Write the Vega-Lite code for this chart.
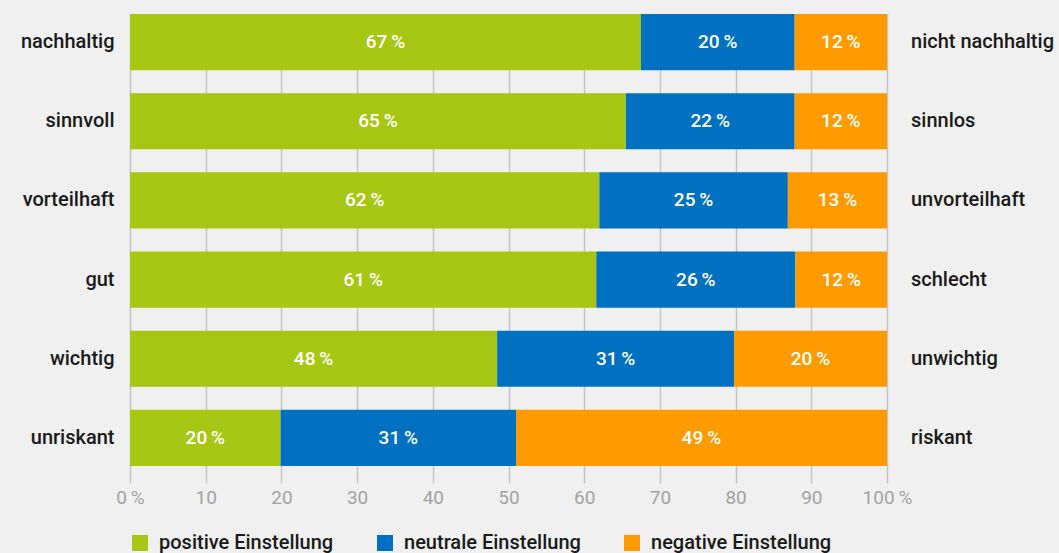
{
  "$schema": "https://vega.github.io/schema/vega-lite/v6.json",
  "autosize": {"type": "none"},
  "width": 757,
  "height": 452,
  "padding": {"left": 130, "top": 14, "right": 172, "bottom": 87},
  "background": "#f0f0f0",
  "config": {
    "view": {"stroke": null},
    "font": "Roboto"
  },
  "data": {
    "values": [
      {"pos": "nachhaltig", "neg": "nicht nachhaltig", "rank": 1, "typ": "positive Einstellung", "o": 1, "value": 67.5, "label": "67\u2009%"},
      {"pos": "nachhaltig", "neg": "nicht nachhaltig", "rank": 1, "typ": "neutrale Einstellung", "o": 2, "value": 20.3, "label": "20\u2009%"},
      {"pos": "nachhaltig", "neg": "nicht nachhaltig", "rank": 1, "typ": "negative Einstellung", "o": 3, "value": 12.2, "label": "12\u2009%"},
      {"pos": "sinnvoll", "neg": "sinnlos", "rank": 2, "typ": "positive Einstellung", "o": 1, "value": 65.5, "label": "65\u2009%"},
      {"pos": "sinnvoll", "neg": "sinnlos", "rank": 2, "typ": "neutrale Einstellung", "o": 2, "value": 22.3, "label": "22\u2009%"},
      {"pos": "sinnvoll", "neg": "sinnlos", "rank": 2, "typ": "negative Einstellung", "o": 3, "value": 12.2, "label": "12\u2009%"},
      {"pos": "vorteilhaft", "neg": "unvorteilhaft", "rank": 3, "typ": "positive Einstellung", "o": 1, "value": 62.0, "label": "62\u2009%"},
      {"pos": "vorteilhaft", "neg": "unvorteilhaft", "rank": 3, "typ": "neutrale Einstellung", "o": 2, "value": 24.9, "label": "25\u2009%"},
      {"pos": "vorteilhaft", "neg": "unvorteilhaft", "rank": 3, "typ": "negative Einstellung", "o": 3, "value": 13.1, "label": "13\u2009%"},
      {"pos": "gut", "neg": "schlecht", "rank": 4, "typ": "positive Einstellung", "o": 1, "value": 61.6, "label": "61\u2009%"},
      {"pos": "gut", "neg": "schlecht", "rank": 4, "typ": "neutrale Einstellung", "o": 2, "value": 26.3, "label": "26\u2009%"},
      {"pos": "gut", "neg": "schlecht", "rank": 4, "typ": "negative Einstellung", "o": 3, "value": 12.1, "label": "12\u2009%"},
      {"pos": "wichtig", "neg": "unwichtig", "rank": 5, "typ": "positive Einstellung", "o": 1, "value": 48.5, "label": "48\u2009%"},
      {"pos": "wichtig", "neg": "unwichtig", "rank": 5, "typ": "neutrale Einstellung", "o": 2, "value": 31.3, "label": "31\u2009%"},
      {"pos": "wichtig", "neg": "unwichtig", "rank": 5, "typ": "negative Einstellung", "o": 3, "value": 20.2, "label": "20\u2009%"},
      {"pos": "unriskant", "neg": "riskant", "rank": 6, "typ": "positive Einstellung", "o": 1, "value": 19.9, "label": "20\u2009%"},
      {"pos": "unriskant", "neg": "riskant", "rank": 6, "typ": "neutrale Einstellung", "o": 2, "value": 31.1, "label": "31\u2009%"},
      {"pos": "unriskant", "neg": "riskant", "rank": 6, "typ": "negative Einstellung", "o": 3, "value": 49.0, "label": "49\u2009%"}
    ]
  },
  "transform": [
    {"stack": "value", "groupby": ["pos"], "sort": [{"field": "o"}], "as": ["start", "end"]},
    {"calculate": "(datum.start + datum.end) / 2", "as": "mid"}
  ],
  "encoding": {
    "y": {
      "field": "pos",
      "type": "nominal",
      "sort": {"field": "rank"},
      "scale": {"paddingInner": 0.29, "paddingOuter": 0},
      "axis": {
        "title": null,
        "domain": false,
        "ticks": false,
        "labelPadding": 16,
        "labelFontSize": 20,
        "labelFontWeight": 500,
        "labelColor": "#1a1a1a"
      }
    }
  },
  "layer": [
    {
      "mark": {"type": "bar"},
      "encoding": {
        "x": {
          "field": "start",
          "type": "quantitative",
          "scale": {"domain": [0, 100], "nice": false},
          "axis": {
            "title": null,
            "values": [0, 10, 20, 30, 40, 50, 60, 70, 80, 90, 100],
            "labelExpr": "datum.value == 0 || datum.value == 100 ? datum.value + '\u2009%' : datum.value",
            "labelFlush": false,
            "labelBound": false,
            "labelOverlap": false,
            "domain": false,
            "grid": true,
            "gridColor": "#c4c4c4",
            "gridWidth": 1.5,
            "tickColor": "#c4c4c4",
            "tickWidth": 1.5,
            "tickSize": 17,
            "labelFontSize": 19,
            "labelColor": "#a3a3a3",
            "labelPadding": 5
          }
        },
        "x2": {"field": "end"},
        "color": {
          "field": "typ",
          "type": "nominal",
          "sort": ["positive Einstellung", "neutrale Einstellung", "negative Einstellung"],
          "scale": {
            "domain": ["positive Einstellung", "neutrale Einstellung", "negative Einstellung"],
            "range": ["#a8c614", "#0070c0", "#ff9b00"]
          },
          "legend": {
            "title": null,
            "orient": "none",
            "direction": "horizontal",
            "legendX": 0,
            "legendY": 519,
            "symbolType": "square",
            "symbolSize": 256,
            "symbolStrokeWidth": 0,
            "labelFontSize": 20,
            "labelFontWeight": 500,
            "labelColor": "#1a1a1a",
            "labelOffset": 9,
            "columnPadding": 41,
            "labelLimit": 400
          }
        }
      }
    },
    {
      "mark": {"type": "text", "color": "white", "fontSize": 19, "fontWeight": 500},
      "encoding": {
        "x": {"field": "mid", "type": "quantitative"},
        "text": {"field": "label"}
      }
    },
    {
      "transform": [{"filter": "datum.o == 3"}],
      "mark": {"type": "text", "align": "left", "dx": 24, "fontSize": 20, "fontWeight": 500, "color": "#1a1a1a"},
      "encoding": {
        "x": {"datum": 100},
        "text": {"field": "neg"}
      }
    }
  ]
}
